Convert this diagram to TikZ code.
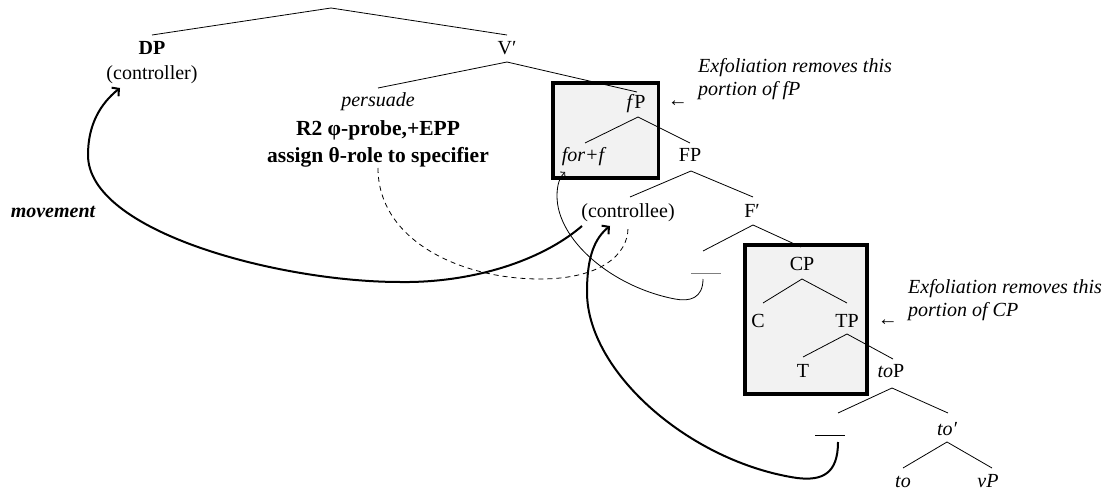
\documentclass[tikz,border=0pt]{standalone}
\usepackage{fontspec}
\setmainfont{Liberation Serif}
\usetikzlibrary{calc,arrows.meta}
\definecolor{boxgray}{HTML}{F2F2F2}
\definecolor{gapgray}{HTML}{7F7F7F}
\begin{document}
\begin{tikzpicture}[x=1pt,y=-1pt,
  lbl/.style={anchor=base,inner sep=0pt,font=\fontsize{20}{23}\selectfont},
  blbl/.style={lbl,font=\fontsize{20}{23}\selectfont\bfseries},
  bigb/.style={lbl,font=\fontsize{21.5}{24}\selectfont\bfseries},
  note/.style={anchor=base west,inner sep=0pt,align=left,font=\fontsize{20}{23}\selectfont\itshape},
  tree/.style={line width=0.8pt},
  exbox/.style={draw=black,line width=3.6pt,fill=boxgray},
  mvarrow/.style={line width=2pt,-{Straight Barb[length=5pt,width=11pt,line width=2pt]}},
  thinarrow/.style={line width=0.8pt,-{Straight Barb[length=3pt,width=7pt,line width=0.8pt]}},
  dashline/.style={line width=0.8pt,dash pattern=on 5pt off 4pt},
]
\useasboundingbox (0,0) rectangle (1109,492);

% shaded boxes
\draw[exbox] (553,83) rectangle (658.5,178);
\draw[exbox] (744.7,244.7) rectangle (867,394);

% labels
\coordinate (root) at (331,8);
\node[blbl] (DP) at (152,55) {DP};
\node[lbl] (ctrl) at (152,80) {(controller)};
\node[lbl] (Vp) at (507,55) {V′};
\node[lbl] (pers) at (378,107) {\itshape persuade};
\node[bigb] (R2) at (378,136) {R2 φ-probe,+EPP};
\node[bigb] (assign) at (378,163) {assign θ-role to specifier};
\node[lbl] (fP) at (636,109) {\textit{f}P};
\node[lbl] (forf) at (583,162) {\itshape for+f};
\node[lbl] (FP) at (690,162) {FP};
\node[lbl] (ctee) at (628,218) {(controllee)};
\node[lbl] (Fp) at (752,217) {F′};
\node[lbl] (gap1) at (706,274) {\textcolor{gapgray}{\rule{30pt}{1pt}}};
\node[lbl] (CP) at (802,270) {CP};
\node[lbl] (C) at (758,327) {C};
\node[lbl] (TP) at (847,327) {TP};
\node[lbl] (T) at (803,377) {T};
\node[lbl] (toP) at (891,377) {\textit{to}P};
\node[lbl] (gap2) at (830,436) {\rule{30pt}{1pt}};
\node[lbl] (top) at (947,435) {\itshape to′};
\node[lbl] (to) at (903,487) {\itshape to};
\node[lbl] (vP) at (988,487) {\itshape vP};
\node[lbl,font=\fontsize{20}{23}\selectfont\bfseries\itshape] (mv) at (53,217) {movement};

% exfoliation notes
\node[lbl,anchor=base east] (ar1) at (688,107) {←};
\node[note] (ex1) at (698,96) {Exfoliation removes this\\portion of fP};
\node[lbl,anchor=base east] (ar2) at (898,325) {←};
\node[note] (ex2) at (908,316) {Exfoliation removes this\\portion of CP};

% tree branches
\draw[tree] (root) -- ($(DP.base)+(0,-20)$);
\draw[tree] (root) -- ($(Vp.base)+(0,-20)$);
\draw[tree] ($(Vp.base)+(0,7)$) -- ($(pers.base)+(0,-19)$);
\draw[tree] ($(Vp.base)+(0,7)$) -- ($(fP.base)+(1,-17)$);
\draw[tree] ($(fP.base)+(2,8)$) -- ($(forf.base)+(2,-19)$);
\draw[tree] ($(fP.base)+(2,8)$) -- ($(FP.base)+(0,-19)$);
\draw[tree] ($(FP.base)+(1,9)$) -- ($(ctee.base)+(2,-21)$);
\draw[tree] ($(FP.base)+(1,9)$) -- ($(Fp.base)+(1,-20)$);
\draw[tree] ($(Fp.base)+(1,8)$) -- ($(gap1.base)+(-3,-23)$);
\draw[tree] ($(Fp.base)+(1,8)$) -- ($(CP.base)+(-1,-23)$);
\draw[tree] ($(CP.base)+(0,9)$) -- ($(C.base)+(5,-24)$);
\draw[tree] ($(CP.base)+(0,9)$) -- ($(TP.base)+(0,-24)$);
\draw[tree] ($(TP.base)+(0,7)$) -- ($(T.base)+(0,-20)$);
\draw[tree] ($(TP.base)+(0,7)$) -- ($(toP.base)+(2,-18)$);
\draw[tree] ($(toP.base)+(1,11)$) -- ($(gap2.base)+(8,-23)$);
\draw[tree] ($(toP.base)+(1,11)$) -- ($(top.base)+(1,-22)$);
\draw[tree] ($(top.base)+(0,7)$) -- ($(to.base)+(0,-19)$);
\draw[tree] ($(top.base)+(0,7)$) -- ($(vP.base)+(4,-19)$);

% movement: controllee -> controller
\draw[mvarrow] ($(ctee.base)+(-46,8)$)
  .. controls (540,262) and (470,283) .. (400,282)
  .. controls (280,282) and (88,232) .. (88,155)
  .. controls (88,125) and (100,104) .. ($(ctrl.base)+(-32,8)$);

% movement: lower gap -> controllee
\draw[mvarrow] ($(gap2.base)+(8,6)$)
  .. controls (838,474) and (822,481) .. (797,478)
  .. controls (690,462) and (587,372) .. (587,292)
  .. controls (587,256) and (595,238) .. ($(ctee.base)+(-18,8)$);

% thin: upper gap -> for+f
\draw[thinarrow] ($(gap1.base)+(-3,5)$)
  .. controls (703,298) and (690,302) .. (675,299)
  .. controls (612,287) and (557,240) .. (557,196)
  .. controls (557,184) and (560,177) .. ($(forf.base)+(-18,10)$);

% dashed: assign -> controllee
\draw[dashline] ($(assign.base)+(0,5)$)
  .. controls (378,240) and (460,279) .. (540,279)
  .. controls (600,279) and (628,255) .. ($(ctee.base)+(0,10)$);
\end{tikzpicture}
\end{document}
